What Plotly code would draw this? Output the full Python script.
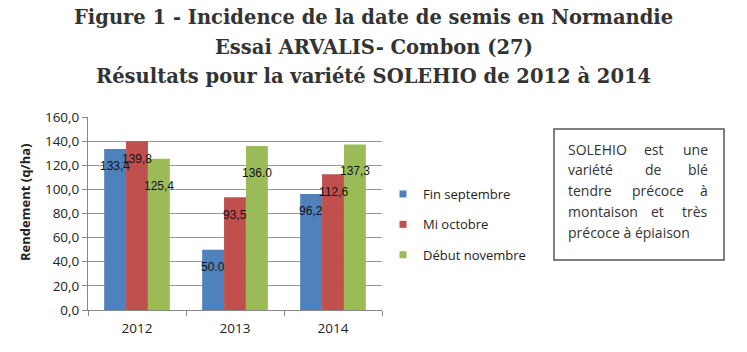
import plotly.graph_objects as go

years = ["2012", "2013", "2014"]
series_names = ["Fin septembre", "Mi octobre", "Début novembre"]
fin_septembre = [133.4, 50.0, 96.2]
mi_octobre = [139.8, 93.5, 112.6]
debut_novembre = [125.4, 136.0, 137.3]
label_fin = ["133,4", "50.0", "96,2"]
label_mi = ["139,8", "93,5", "112,6"]
label_debut = ["125,4", "136.0", "137,3"]
colors = ["#4F81BD", "#C0504D", "#9BBB59"]
title_lines = [
    "Figure 1 - Incidence de la date de semis en Normandie",
    "Essai ARVALIS- Combon (27)",
    "Résultats pour la variété SOLEHIO de 2012 à 2014",
]
y_title = "Rendement (q/ha)"
note_lines = ["SOLEHIO est une", "variété de blé", "tendre précoce à",
              "montaison et très", "précoce à épiaison"]

W, H = 747, 352
L, R, T, B = 88, 365, 117, 42
pw, ph = W - L - R, H - T - B

def px(xp):
    return (xp - L) / pw

def py(yp):
    return (H - B - yp) / ph

values = [fin_septembre, mi_octobre, debut_novembre]
labels = [label_fin, label_mi, label_debut]
bargap = 0.33

fig = go.Figure()
for j, (name, vals, col) in enumerate(zip(series_names, values, colors)):
    fig.add_trace(go.Bar(x=years, y=vals, name=name, marker_color=col,
                         marker_line_width=0, showlegend=False, legendgroup=name))
    fig.add_trace(go.Scatter(x=[None], y=[None], mode="markers", name=name,
                             marker=dict(symbol="square", size=7, color=col),
                             legendgroup=name, showlegend=True))

annotations = []
bw = (1 - bargap) / 3
yshifts = [-17, -18, -27]
for j in range(3):
    for i in range(3):
        annotations.append(dict(
            x=i + (j - 1) * bw, y=values[j][i], xref="x", yref="y",
            text=labels[j][i], showarrow=False, yshift=yshifts[j],
            font=dict(family="Liberation Sans", size=12, color="#111111")))

for k, (line, ypix) in enumerate(zip(title_lines, [18, 47, 77])):
    annotations.append(dict(
        x=px(W / 2), y=py(ypix), xref="paper", yref="paper", text="<b>" + line + "</b>",
        showarrow=False, xanchor="center", yanchor="middle",
        font=dict(family="DejaVu Serif", size=19.5, color="#333333")))

annotations.append(dict(
    x=px(25), y=py(202), xref="paper", yref="paper", text="<b>" + y_title + "</b>",
    showarrow=False, textangle=-90, xanchor="center", yanchor="middle",
    font=dict(family="Open Sans", size=13, color="#222222")))

# justified note text
tx0, tx1 = 566, 710
cw = 7.8
for k, line in enumerate(note_lines):
    ypix = 149 + k * 20.8
    words = line.split(" ")
    if k == len(note_lines) - 1:
        annotations.append(dict(x=px(tx0), y=py(ypix), xref="paper", yref="paper",
                                text=line, showarrow=False, xanchor="left", yanchor="middle",
                                font=dict(family="Open Sans", size=14, color="#333333")))
        continue
    widths = [len(w) * cw for w in words]
    gap = (tx1 - tx0 - sum(widths)) / (len(words) - 1)
    xcur = tx0
    for n, (w, wd) in enumerate(zip(words, widths)):
        if n == 0:
            xa, xx = "left", tx0
        elif n == len(words) - 1:
            xa, xx = "right", tx1
        else:
            xa, xx = "center", xcur + wd / 2
        annotations.append(dict(x=px(xx), y=py(ypix), xref="paper", yref="paper",
                                text=w, showarrow=False, xanchor=xa, yanchor="middle",
                                font=dict(family="Open Sans", size=14, color="#333333")))
        xcur += wd + gap

fig.update_layout(
    width=W, height=H,
    margin=dict(l=L, r=R, t=T, b=B),
    paper_bgcolor="white", plot_bgcolor="white",
    barmode="group", bargap=bargap, bargroupgap=0,
    separators=", ",
    annotations=annotations,
    shapes=[dict(type="rect", xref="paper", yref="paper",
                 x0=px(554), x1=px(724), y0=py(260), y1=py(129),
                 line=dict(color="#555555", width=1.5))],
    legend=dict(x=px(383), y=py(179), xanchor="left", yanchor="top",
                font=dict(family="Open Sans", size=13, color="#222222"),
                tracegroupgap=10.5, itemwidth=30, bgcolor="rgba(0,0,0,0)"),
    showlegend=True,
)
fig.update_xaxes(showline=True, linecolor="#888888", linewidth=1,
                 ticks="outside", tickson="boundaries", ticklen=5, tickcolor="#888888",
                 tickfont=dict(family="Open Sans", size=13.5, color="#222222"),
                 ticklabelstandoff=6, showgrid=False)
fig.update_yaxes(range=[0, 160], dtick=20, tickformat=".1f",
                 showline=True, linecolor="#888888", linewidth=1,
                 ticks="outside", ticklen=5, tickcolor="#888888",
                 gridcolor="#999999", gridwidth=1,
                 tickfont=dict(family="Open Sans", size=13.5, color="#222222"))

fig.write_html("out.html")
